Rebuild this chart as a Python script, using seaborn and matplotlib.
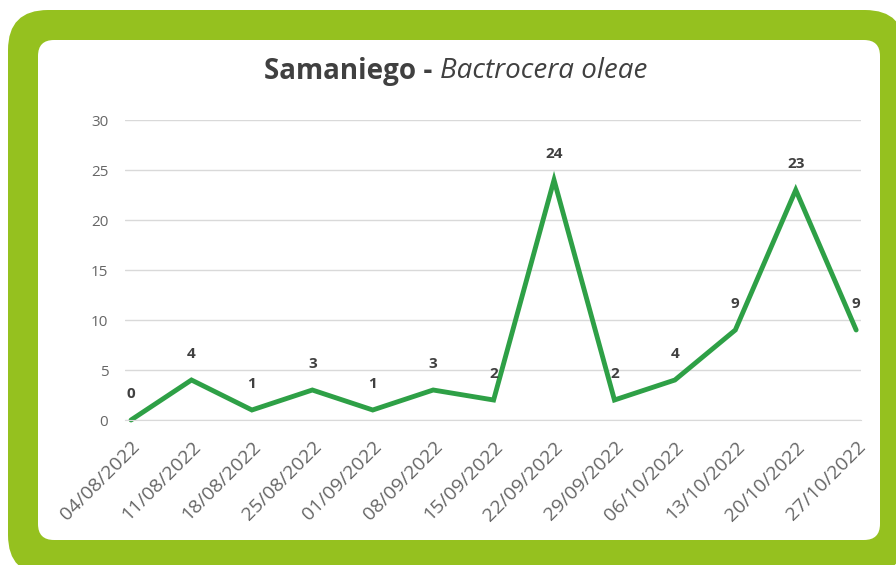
import matplotlib
matplotlib.use("Agg")
import matplotlib.pyplot as plt
from matplotlib.patches import FancyBboxPatch
import numpy as np
import pandas as pd
import seaborn as sns

sns.set_style("white")
plt.rcParams['font.family'] = ['Open Sans', 'DejaVu Sans']

# ----- datos -----
fechas = ['04/08/2022', '11/08/2022', '18/08/2022', '25/08/2022', '01/09/2022',
          '08/09/2022', '15/09/2022', '22/09/2022', '29/09/2022', '06/10/2022',
          '13/10/2022', '20/10/2022', '27/10/2022']
capturas = [0, 4, 1, 3, 1, 3, 2, 24, 2, 4, 9, 23, 9]
y_ticks = [0, 5, 10, 15, 20, 25, 30]

W, H = 896, 565
VERDE_MARCO = '#95C11F'
VERDE_LINEA = '#2EA046'
GRIS_TEXTO = '#404040'
GRIS_EJE = '#666666'

fig = plt.figure(figsize=(W / 100, H / 100), dpi=100)
fig.patch.set_facecolor('white')

# ----- marco verde redondeado (coordenadas en pixeles) -----
bg = fig.add_axes([0, 0, 1, 1])
bg.set_xlim(0, W)
bg.set_ylim(0, H)
bg.axis('off')
bg.add_patch(FancyBboxPatch((8, H - 575), 897, 565,
                            boxstyle="round,pad=0,rounding_size=40",
                            fc=VERDE_MARCO, ec='none'))
bg.add_patch(FancyBboxPatch((38, H - 540), 842, 500,
                            boxstyle="round,pad=0,rounding_size=16",
                            fc='white', ec='none'))

# ----- grafico -----
df = pd.DataFrame({'idx': np.arange(len(fechas)), 'capturas': capturas})
ax = fig.add_axes([125 / W, 1 - 420 / H, 736 / W, 300 / H])
ax.patch.set_alpha(0)
sns.lineplot(data=df, x='idx', y='capturas', ax=ax, color=VERDE_LINEA,
             linewidth=3.5, clip_on=False, solid_joinstyle='miter')

ax.set_xlim(-0.1, len(fechas) - 1 + 0.08)
ax.set_ylim(0, 30)
ax.set_yticks(y_ticks)
ax.set_xticks(df['idx'])
ax.set_xticklabels(fechas, rotation=45, ha='right', rotation_mode='anchor')
ax.set_xlabel('')
ax.set_ylabel('')
ax.grid(axis='y', color='#D9D9D9', linewidth=1)
ax.set_axisbelow(True)
for s in ['top', 'right', 'left']:
    ax.spines[s].set_visible(False)
ax.spines['bottom'].set_color('#D9D9D9')
ax.tick_params(axis='y', length=0, pad=12, labelsize=11, labelcolor=GRIS_EJE)
ax.tick_params(axis='x', length=5, color='#D9D9D9', direction='out', pad=8,
               labelsize=14, labelcolor=GRIS_EJE)

for i, v in enumerate(capturas):
    ax.annotate(str(v), (i, v), xytext=(0, 19), textcoords='offset points',
                ha='center', va='center', fontsize=11, fontweight='bold',
                color=GRIS_TEXTO, annotation_clip=False)

# ----- titulo -----
fig.text(432 / W, 1 - 71 / H, 'Samaniego -', ha='right', va='center',
         fontsize=20, fontweight='bold', color=GRIS_TEXTO)
fig.text(440 / W, 1 - 71 / H, 'Bactrocera oleae', ha='left', va='center',
         fontsize=20, fontstyle='italic', color=GRIS_TEXTO)

fig.savefig('out.png', dpi=100, facecolor='white')
